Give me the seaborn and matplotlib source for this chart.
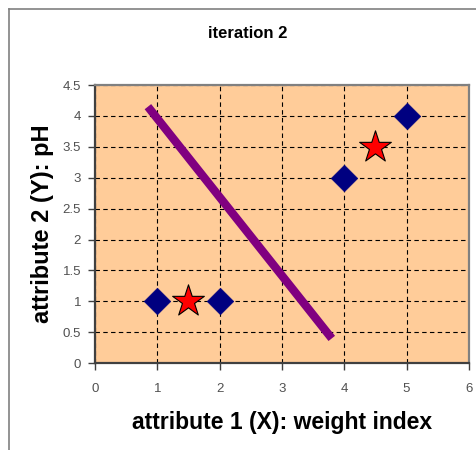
import pandas as pd
import seaborn as sns
import matplotlib.pyplot as plt
from matplotlib.lines import Line2D

# Data points (diamonds), cluster centres (stars) and the separating line
points_x = [1, 2, 4, 5]
points_y = [1, 1, 3, 4]
centres_x = [1.5, 4.5]
centres_y = [1, 3.5]
line_x = [0.85, 3.8]
line_y = [4.15, 0.4]

x_ticks = [0, 1, 2, 3, 4, 5, 6]
y_ticks = [0, 0.5, 1, 1.5, 2, 2.5, 3, 3.5, 4, 4.5]
y_tick_labels = ["0", "0.5", "1", "1.5", "2", "2.5", "3", "3.5", "4", "4.5"]

df_points = pd.DataFrame({"x": points_x, "y": points_y})
df_centres = pd.DataFrame({"x": centres_x, "y": centres_y})
df_line = pd.DataFrame({"x": line_x, "y": line_y})

plt.rcParams["font.family"] = ["Liberation Sans", "DejaVu Sans"]

fig = plt.figure(figsize=(4.77, 4.5), dpi=100)
ax = fig.add_axes([0.199, 0.193, 0.784, 0.618])
ax.set_facecolor("#FFCC99")

# Excel-style dashed grid
ax.set_xticks(x_ticks)
ax.set_yticks(y_ticks)
ax.set_yticklabels(y_tick_labels)
ax.grid(True, color="black", linestyle=(0, (4, 3)), linewidth=0.8)
ax.set_axisbelow(True)

sns.lineplot(data=df_line, x="x", y="y", color="#800080", linewidth=6,
             solid_capstyle="butt", ax=ax, zorder=3)
sns.scatterplot(data=df_points, x="x", y="y", marker="D", s=13.5 ** 2,
                color="#000080", edgecolor="#000080", linewidth=0.5, ax=ax, zorder=4)
sns.scatterplot(data=df_centres, x="x", y="y", marker="*", s=24 ** 2,
                color="#FF0000", edgecolor="black", linewidth=0.8, ax=ax, zorder=5)

ax.set_xlim(0, 6)
ax.set_ylim(0, 4.5)

for side in ["top", "right"]:
    ax.spines[side].set_color("#808080")
    ax.spines[side].set_linewidth(1.6)
for side in ["left", "bottom"]:
    ax.spines[side].set_color("#404040")
    ax.spines[side].set_linewidth(1.6)

ax.tick_params(direction="out", length=5, width=1, color="#404040",
               labelcolor="#505050", labelsize=9.5, pad=5)
ax.tick_params(axis="x", pad=9)

ax.set_xlabel("attribute 1 (X): weight index", fontsize=16.5, fontweight="bold",
              labelpad=12)
ax.set_ylabel("attribute 2 (Y): pH", fontsize=17, fontweight="bold", labelpad=6)

fig.text(0.52, 0.926, "iteration 2", ha="center", va="center",
         fontsize=12, fontweight="bold")

# chart-area border (top and left edges visible)
fig.add_artist(Line2D([0.019, 1.0], [0.979, 0.979], color="#808080", linewidth=1.2))
fig.add_artist(Line2D([0.019, 0.019], [0.0, 0.979], color="#808080", linewidth=1.2))

plt.savefig("out.png", dpi=100)
